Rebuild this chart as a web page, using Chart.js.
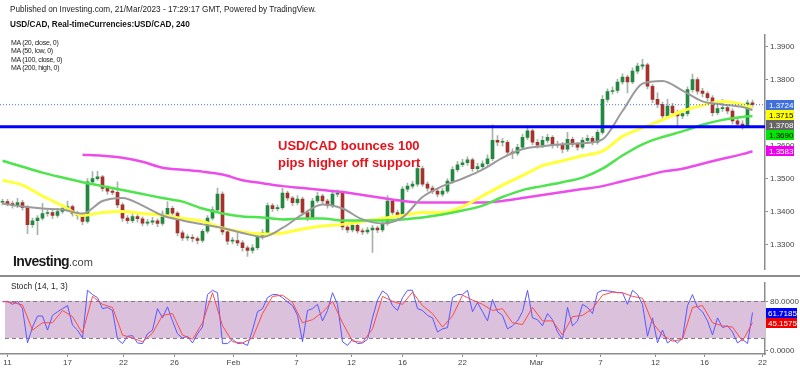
<!DOCTYPE html>
<html>
<head>
<meta charset="utf-8">
<script src="https://cdn.jsdelivr.net/npm/chart.js@4.4.0/dist/chart.umd.min.js"></script>
<style>
body { margin: 0; background: #fff; width: 800px; height: 369px; overflow: hidden; position: relative; font-family: Arial, "Liberation Sans", sans-serif; }
.t { position: absolute; white-space: nowrap; color: #222; }
#main { position: absolute; left: 0; top: 0; }
#stoch { position: absolute; left: 0; top: 276px; }
#sep { position: absolute; left: 0; top: 275px; width: 800px; height: 2px; background: #8c8c8c; }
</style>
</head>
<body>
<canvas id="main" width="800" height="276"></canvas>
<canvas id="stoch" width="800" height="93"></canvas>
<div id="sep"></div>

<div class="t" style="left:10px;top:5px;font-size:8.2px;line-height:10px">Published on Investing.com, 21/Mar/2023 - 17:29:17 GMT, Powered by TradingView.</div>
<div class="t" style="left:10px;top:20px;font-size:8.2px;line-height:10px;font-weight:bold;color:#111">USD/CAD, Real-timeCurrencies:USD/CAD, 240</div>
<div class="t" style="left:11px;top:39px;font-size:7px;letter-spacing:-0.3px;line-height:8.4px;color:#222">MA (20, close, 0)<br>MA (50, low, 0)<br>MA (100, close, 0)<br>MA (200, high, 0)</div>
<div class="t" style="left:278px;top:137px;font-size:13px;line-height:17px;font-weight:bold;color:#e5131b">USD/CAD bounces 100<br>pips higher off support</div>
<div class="t" style="left:13px;top:253px;line-height:16px"><span style="font-size:14px;font-weight:bold;letter-spacing:-0.6px;color:#1a1a1a">Investing</span><span style="font-size:11px;color:#444">.com</span></div>
<div class="t" style="left:11px;top:281px;font-size:8.3px;line-height:10px;color:#222">Stoch (14, 1, 3)</div>

<script>
// USD/CAD 4H, roughly one candle per 8 hours
var firstOpen = 1.3428;
var closes = [
  1.3430, 1.3424, 1.3418, 1.3427, 1.3412, 1.3360, 1.3372, 1.3380, 1.3394, 1.3397,
  1.3388, 1.3400, 1.3409, 1.3415, 1.3394, 1.3388, 1.3370, 1.3490, 1.3500, 1.3505,
  1.3470, 1.3462, 1.3458, 1.3420, 1.3380, 1.3372, 1.3385, 1.3378, 1.3365, 1.3368,
  1.3372, 1.3364, 1.3392, 1.3410, 1.3395, 1.3335, 1.3320, 1.3322, 1.3318, 1.3312,
  1.3340, 1.3380, 1.3405, 1.3453, 1.3338, 1.3310, 1.3312, 1.3305, 1.3290, 1.3282,
  1.3290, 1.3323, 1.3335, 1.3418, 1.3409, 1.3412, 1.3456, 1.3441, 1.3427, 1.3438,
  1.3397, 1.3382, 1.3432, 1.3447, 1.3432, 1.3418, 1.3453, 1.3456, 1.3353, 1.3344,
  1.3358, 1.3341, 1.3338, 1.3344, 1.3350, 1.3344, 1.3364, 1.3432, 1.3397, 1.3388,
  1.3468, 1.3477, 1.3483, 1.3530, 1.3483, 1.3471, 1.3462, 1.3453, 1.3462, 1.3492,
  1.3527, 1.3542, 1.3548, 1.3557, 1.3530, 1.3536, 1.3545, 1.3560, 1.3616, 1.3610,
  1.3610, 1.3580, 1.3577, 1.3595, 1.3625, 1.3645, 1.3610, 1.3601, 1.3616, 1.3625,
  1.3601, 1.3604, 1.3589, 1.3619, 1.3604, 1.3595, 1.3616, 1.3622, 1.3610, 1.3640,
  1.3740, 1.3764, 1.3767, 1.3793, 1.3808, 1.3793, 1.3826, 1.3841, 1.3845, 1.3780,
  1.3740, 1.3725, 1.3690, 1.3720, 1.3700, 1.3690, 1.3697, 1.3770, 1.3800, 1.3765,
  1.3758, 1.3745, 1.3700, 1.3712, 1.3715, 1.3705, 1.3675, 1.3665, 1.3660, 1.3730,
  1.3724
];
var highs = [
  1.3438, 1.3437, 1.3432, 1.3440, 1.3434, 1.3418, 1.3380, 1.3388, 1.3425, 1.3405,
  1.3404, 1.3410, 1.3418, 1.3432, 1.3420, 1.3400, 1.3395, 1.3500, 1.3521, 1.3522,
  1.3510, 1.3478, 1.3470, 1.3490, 1.3426, 1.3388, 1.3400, 1.3392, 1.3384, 1.3376,
  1.3382, 1.3378, 1.3402, 1.3430, 1.3416, 1.3400, 1.3342, 1.3330, 1.3330, 1.3324,
  1.3346, 1.3388, 1.3414, 1.3471, 1.3460, 1.3344, 1.3322, 1.3340, 1.3312, 1.3296,
  1.3300, 1.3330, 1.3345, 1.3426, 1.3424, 1.3420, 1.3470, 1.3462, 1.3446, 1.3448,
  1.3444, 1.3404, 1.3440, 1.3458, 1.3452, 1.3438, 1.3466, 1.3466, 1.3462, 1.3360,
  1.3368, 1.3364, 1.3348, 1.3352, 1.3358, 1.3356, 1.3372, 1.3448, 1.3438, 1.3404,
  1.3476, 1.3486, 1.3492, 1.3540, 1.3538, 1.3490, 1.3478, 1.3470, 1.3470, 1.3500,
  1.3536, 1.3552, 1.3558, 1.3566, 1.3562, 1.3546, 1.3554, 1.3572, 1.3663, 1.3630,
  1.3622, 1.3616, 1.3590, 1.3604, 1.3634, 1.3660, 1.3650, 1.3618, 1.3628, 1.3634,
  1.3630, 1.3614, 1.3610, 1.3640, 1.3626, 1.3610, 1.3624, 1.3632, 1.3628, 1.3648,
  1.3752, 1.3772, 1.3778, 1.3802, 1.3818, 1.3814, 1.3836, 1.3850, 1.3862, 1.3850,
  1.3786, 1.3760, 1.3732, 1.3740, 1.3728, 1.3708, 1.3706, 1.3778, 1.3817, 1.3806,
  1.3774, 1.3764, 1.3752, 1.3722, 1.3740, 1.3724, 1.3712, 1.3684, 1.3676, 1.3738,
  1.3738
];
var lows = [
  1.3420, 1.3417, 1.3410, 1.3412, 1.3404, 1.3333, 1.3352, 1.3330, 1.3374, 1.3386,
  1.3378, 1.3382, 1.3394, 1.3402, 1.3386, 1.3376, 1.3360, 1.3365, 1.3484, 1.3494,
  1.3462, 1.3452, 1.3450, 1.3412, 1.3370, 1.3364, 1.3366, 1.3368, 1.3356, 1.3358,
  1.3360, 1.3354, 1.3358, 1.3386, 1.3388, 1.3326, 1.3312, 1.3312, 1.3308, 1.3302,
  1.3306, 1.3334, 1.3374, 1.3398, 1.3330, 1.3300, 1.3302, 1.3296, 1.3280, 1.3264,
  1.3274, 1.3284, 1.3316, 1.3330, 1.3400, 1.3402, 1.3406, 1.3434, 1.3418, 1.3420,
  1.3390, 1.3372, 1.3378, 1.3426, 1.3424, 1.3410, 1.3412, 1.3444, 1.3344, 1.3336,
  1.3338, 1.3334, 1.3330, 1.3332, 1.3276, 1.3336, 1.3338, 1.3358, 1.3390, 1.3378,
  1.3382, 1.3460, 1.3470, 1.3476, 1.3476, 1.3462, 1.3454, 1.3444, 1.3446, 1.3456,
  1.3486, 1.3520, 1.3536, 1.3540, 1.3522, 1.3524, 1.3528, 1.3538, 1.3554, 1.3600,
  1.3598, 1.3570, 1.3560, 1.3570, 1.3588, 1.3618, 1.3602, 1.3592, 1.3594, 1.3608,
  1.3592, 1.3594, 1.3578, 1.3582, 1.3596, 1.3586, 1.3590, 1.3608, 1.3602, 1.3604,
  1.3634, 1.3732, 1.3756, 1.3760, 1.3786, 1.3760, 1.3788, 1.3818, 1.3832, 1.3772,
  1.3730, 1.3715, 1.3680, 1.3684, 1.3692, 1.3660, 1.3682, 1.3690, 1.3762, 1.3756,
  1.3748, 1.3736, 1.3690, 1.3694, 1.3704, 1.3696, 1.3666, 1.3656, 1.3650, 1.3654,
  1.3716
];

// moving averages, read every 4 candles
var maIdx = [0, 4, 8, 12, 16, 20, 24, 28, 32, 36, 40, 44, 48, 52, 56, 60, 64, 68, 72, 76,
  80, 84, 88, 92, 96, 100, 104, 108, 112, 116, 120, 124, 128, 132, 136, 140, 144, 148, 150];
var ma20 = [1.3424, 1.3415, 1.3409, 1.3406, 1.3394, 1.3432, 1.3441, 1.3418, 1.3388, 1.3373,
  1.3361, 1.3350, 1.3335, 1.3323, 1.3350, 1.3391, 1.3421, 1.3409, 1.3376, 1.3364,
  1.3382, 1.3444, 1.3477, 1.3500, 1.3527, 1.3563, 1.3589, 1.3598, 1.3604, 1.3607,
  1.3619, 1.3705, 1.3788, 1.3796, 1.3767, 1.3734, 1.3725, 1.3717, 1.3708];
var ma50 = [1.3495, 1.3480, 1.3447, 1.3418, 1.3388, 1.3397, 1.3400, 1.3394, 1.3388, 1.3379,
  1.3370, 1.3350, 1.3338, 1.3332, 1.3335, 1.3347, 1.3356, 1.3361, 1.3370, 1.3379,
  1.3388, 1.3397, 1.3397, 1.3415, 1.3447, 1.3480, 1.3509, 1.3539, 1.3554, 1.3569,
  1.3583, 1.3628, 1.3654, 1.3678, 1.3705, 1.3722, 1.3734, 1.3725, 1.3715];
var ma100 = [1.3554, 1.3536, 1.3518, 1.3503, 1.3489, 1.3477, 1.3465, 1.3453, 1.3441, 1.3430,
  1.3409, 1.3394, 1.3385, 1.3382, 1.3376, 1.3379, 1.3379, 1.3373, 1.3373, 1.3373,
  1.3376, 1.3382, 1.3391, 1.3403, 1.3418, 1.3444, 1.3465, 1.3477, 1.3489, 1.3503,
  1.3530, 1.3570, 1.3604, 1.3626, 1.3643, 1.3663, 1.3678, 1.3687, 1.3690];
var ma200 = [null, null, null, null, 1.3572, 1.3569, 1.3563, 1.3551, 1.3533, 1.3527,
  1.3521, 1.3512, 1.3495, 1.3486, 1.3477, 1.3471, 1.3465, 1.3459, 1.3450, 1.3441,
  1.3432, 1.3427, 1.3427, 1.3427, 1.3427, 1.3432, 1.3441, 1.3450, 1.3459, 1.3468,
  1.3477, 1.3492, 1.3506, 1.3521, 1.3530, 1.3545, 1.3560, 1.3574, 1.3583];

var supportLevel = 1.3657;

// stochastic %K (every candle) and %D (every 2nd candle)
var stochK = [
  79, 80, 75, 80, 68, 12, 38, 56, 56, 33, 57, 63, 68, 73, 41, 33, 20, 98, 91, 86,
  68, 70, 65, 18, 11, 23, 24, 12, 11, 27, 33, 68, 53, 71, 48, 27, 20, 23, 12, 27,
  38, 91, 98, 94, 11, 11, 18, 11, 12, 8, 33, 63, 68, 86, 91, 91, 86, 79, 73, 57,
  14, 65, 68, 75, 48, 65, 94, 75, 14, 8, 18, 11, 12, 18, 53, 82, 97, 91, 73, 65,
  86, 98, 98, 68, 65, 57, 53, 30, 35, 37, 86, 91, 91, 98, 63, 78, 63, 48, 83, 63,
  57, 35, 40, 48, 63, 98, 53, 50, 40, 60, 50, 30, 18, 70, 40, 48, 75, 70, 60, 94,
  98, 97, 96, 94, 94, 75, 98, 91, 75, 23, 53, 12, 33, 12, 18, 12, 20, 73, 91, 70,
  63, 48, 25, 53, 37, 40, 30, 12, 18, 11, 61.7185
];
var stochD = [
  80, 78, 74, 33, 45, 45, 65, 55, 28, 88, 75, 70, 25, 20, 14, 28, 57, 60, 25, 18,
  45, 94, 40, 14, 12, 20, 60, 88, 90, 78, 45, 50, 62, 80, 45, 15, 13, 35, 88, 80,
  75, 95, 73, 60, 38, 56, 90, 82, 75, 65, 68, 45, 42, 70, 48, 48, 25, 55, 57, 68,
  90, 95, 94, 88, 85, 45, 25, 15, 18, 70, 73, 45, 40, 38, 15, 45.1575
];

var priceTicks = [1.33, 1.34, 1.35, 1.36, 1.37, 1.38, 1.39];
var stochTicks = [0, 80];
var bandLow = 20, bandHigh = 80;
var dateTickPos = [1, 13, 24.2, 34.4, 46.2, 58.8, 69.8, 80, 92, 106.8, 119.6, 130.6, 140.4, 152];
var dateLabels = ['11', '17', '22', '26', 'Feb', '7', '12', '16', '22', 'Mar', '7', '12', '16', '22'];

var xMin = -0.5, xMax = 152.5;
var axisGray = '#8c8c8c';
var tickText = '#444';

Chart.defaults.font.family = 'Arial, "Liberation Sans", sans-serif';
Chart.defaults.font.size = 8;
Chart.defaults.color = tickText;

var opens = closes.map(function (c, i) { return i === 0 ? firstOpen : closes[i - 1]; });
var upColor = '#22873f', downColor = '#a5322c', wickColor = '#a6b4a8';

function maData(arr) {
    return maIdx.map(function (x, k) { return { x: x, y: arr[k] }; });
}
function maLine(arr, color, width) {
    return {
        type: 'line', data: maData(arr), borderColor: color, borderWidth: width,
        pointRadius: 0, cubicInterpolationMode: 'monotone', spanGaps: true, order: 1
    };
}

// price boxes on the right edge, stacked so they do not overlap
var priceBoxes = {
    id: 'priceBoxes',
    afterDraw: function (chart) {
        var ctx = chart.ctx, y = chart.scales.y, right = chart.chartArea.right;
        var items = [
            { v: closes[closes.length - 1], bg: '#3f70dc', fg: '#fff' },
            { v: ma50[ma50.length - 1], bg: '#ffff00', fg: '#000' },
            { v: ma20[ma20.length - 1], bg: '#666666', fg: '#fff' },
            { v: ma100[ma100.length - 1], bg: '#00e600', fg: '#000' },
            { v: ma200[ma200.length - 1], bg: '#ee00ee', fg: '#fff' }
        ];
        items.forEach(function (it) { it.py = y.getPixelForValue(it.v); });
        items.sort(function (a, b) { return a.py - b.py; });
        var prev = -100;
        ctx.save();
        ctx.font = '8px Arial, "Liberation Sans", sans-serif';
        ctx.textBaseline = 'middle';
        items.forEach(function (it) {
            var py = Math.max(it.py, prev + 10);
            prev = py;
            ctx.fillStyle = it.bg;
            ctx.fillRect(right + 1, Math.round(py) - 5, 28, 10);
            ctx.fillStyle = it.fg;
            ctx.fillText(it.v.toFixed(4), right + 4, Math.round(py) + 0.5);
        });
        ctx.restore();
    }
};

new Chart(document.getElementById('main'), {
    type: 'bar',
    data: {
        datasets: [
            maLine(ma20, '#9a9a9a', 2),
            maLine(ma100, '#4ee44e', 2.5),
            maLine(ma50, '#ffff3a', 3),
            maLine(ma200, '#ec4cec', 2.5),
            {
                type: 'line', data: [{ x: xMin, y: supportLevel }, { x: xMax, y: supportLevel }],
                borderColor: '#0000ff', borderWidth: 3, pointRadius: 0, order: 0
            },
            {
                type: 'line', data: [{ x: xMin, y: closes[closes.length - 1] }, { x: xMax, y: closes[closes.length - 1] }],
                borderColor: '#4a74e0', borderWidth: 1, borderDash: [1, 2], pointRadius: 0, order: 0
            },
            {
                type: 'bar', data: closes.map(function (c, i) { return { x: i, y: [opens[i], c] }; }),
                backgroundColor: closes.map(function (c, i) { return c >= opens[i] ? upColor : downColor; }),
                barThickness: 3, minBarLength: 1, grouped: false, order: 5
            },
            {
                type: 'bar', data: closes.map(function (c, i) { return { x: i, y: [lows[i], highs[i]] }; }),
                backgroundColor: wickColor, barThickness: 1, grouped: false, order: 6
            }
        ]
    },
    options: {
        responsive: false,
        animation: false,
        events: [],
        layout: { padding: { top: 35, bottom: 1, left: 0, right: 0 } },
        plugins: { legend: { display: false }, tooltip: { enabled: false } },
        scales: {
            x: { type: 'linear', min: xMin, max: xMax, offset: false, display: false },
            y: {
                type: 'linear', position: 'right', min: 1.3225, max: 1.39355,
                afterBuildTicks: function (s) { s.ticks = priceTicks.map(function (v) { return { value: v }; }); },
                afterFit: function (s) { s.width = 35; },
                ticks: { padding: 2, color: tickText, font: { size: 8 }, callback: function (v) { return v.toFixed(4); } },
                grid: { drawOnChartArea: false, tickLength: 3, color: axisGray },
                border: { color: axisGray, width: 1.5 }
            }
        }
    },
    plugins: [priceBoxes]
});

var stochBand = {
    id: 'stochBand',
    beforeDatasetsDraw: function (chart) {
        var ctx = chart.ctx, a = chart.chartArea, y = chart.scales.y;
        var y1 = Math.round(y.getPixelForValue(bandHigh)), y2 = Math.round(y.getPixelForValue(bandLow));
        ctx.save();
        ctx.fillStyle = '#dcc1dc';
        ctx.fillRect(a.left + 5, y1, a.right - a.left - 5, y2 - y1);
        ctx.strokeStyle = '#857a85';
        ctx.lineWidth = 1;
        ctx.setLineDash([4, 3]);
        [y1, y2].forEach(function (p) {
            ctx.beginPath();
            ctx.moveTo(a.left + 5, p + 0.5);
            ctx.lineTo(a.right, p + 0.5);
            ctx.stroke();
        });
        ctx.restore();
    }
};

var stochBoxes = {
    id: 'stochBoxes',
    afterDraw: function (chart) {
        var ctx = chart.ctx, y = chart.scales.y, right = chart.chartArea.right;
        var items = [
            { v: stochK[stochK.length - 1], bg: '#0000f0' },
            { v: stochD[stochD.length - 1], bg: '#f00000' }
        ];
        ctx.save();
        ctx.font = '8px Arial, "Liberation Sans", sans-serif';
        ctx.textBaseline = 'middle';
        items.forEach(function (it) {
            var py = Math.round(y.getPixelForValue(it.v));
            ctx.fillStyle = it.bg;
            ctx.fillRect(right + 1, py - 5, 31, 10);
            ctx.fillStyle = '#fff';
            ctx.fillText(it.v.toFixed(4), right + 3, py + 0.5);
        });
        ctx.restore();
    }
};

new Chart(document.getElementById('stoch'), {
    type: 'line',
    data: {
        datasets: [
            {
                data: stochD.map(function (v, k) { return { x: k * 2, y: v }; }),
                borderColor: '#ff4a4a', borderWidth: 1, pointRadius: 0, order: 0
            },
            {
                data: stochK.map(function (v, i) { return { x: i, y: v }; }),
                borderColor: '#5858ff', borderWidth: 1, pointRadius: 0, order: 1
            }
        ]
    },
    options: {
        responsive: false,
        animation: false,
        events: [],
        layout: { padding: { top: 1, left: 0, right: 0, bottom: 0 } },
        plugins: { legend: { display: false }, tooltip: { enabled: false } },
        scales: {
            x: {
                type: 'linear', min: xMin, max: xMax, offset: false,
                afterBuildTicks: function (s) { s.ticks = dateTickPos.map(function (v) { return { value: v }; }); },
                afterFit: function (s) { s.height = 15; },
                ticks: {
                    autoSkip: false, maxRotation: 0, padding: 1, color: tickText, font: { size: 8 },
                    callback: function (v, i) { return dateLabels[i]; }
                },
                grid: { drawOnChartArea: false, tickLength: 3, color: axisGray },
                border: { color: axisGray, width: 1.5 }
            },
            y: {
                type: 'linear', position: 'right', min: -6, max: 110.2,
                afterBuildTicks: function (s) { s.ticks = stochTicks.map(function (v) { return { value: v }; }); },
                afterFit: function (s) { s.width = 35; },
                ticks: { padding: 2, color: tickText, font: { size: 8 }, callback: function (v) { return v.toFixed(4); } },
                grid: { drawOnChartArea: false, tickLength: 3, color: axisGray },
                border: { color: axisGray, width: 1.5 }
            }
        }
    },
    plugins: [stochBand, stochBoxes]
});
</script>
</body>
</html>
